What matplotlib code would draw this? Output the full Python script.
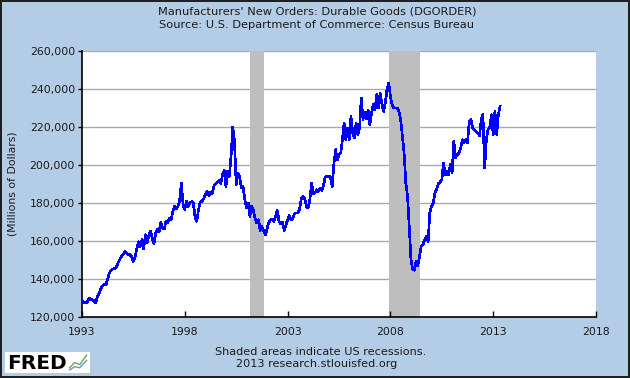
import numpy as np
import matplotlib
matplotlib.use('Agg')
import matplotlib.pyplot as plt
from matplotlib.ticker import FuncFormatter

# monthly new orders, thousands of millions of dollars, Jan 1993 onwards
orders_1993_1997 = [
    128.8, 127.4, 128.0, 127.7, 129.8, 129.5, 129.1, 128.4, 127.4, 130.9, 132.2, 134.8,
    136.5, 137.3, 137.0, 140.0, 143.2, 144.6, 145.3, 145.6, 146.0, 148.4, 150.2, 151.9,
    152.8, 154.4, 153.7, 152.6, 152.8, 151.6, 149.3, 151.9, 155.8, 159.6, 157.2, 160.7,
    155.8, 163.3, 159.3, 162.8, 165.1, 161.6, 158.6, 164.2, 166.3, 165.1, 169.8, 166.8,
    166.3, 170.4, 169.5, 172.1, 171.2, 175.6, 178.2, 176.8, 178.2, 181.4, 190.5, 179.1,
]
orders_1998_2002 = [
    176.5, 180.9, 178.2, 180.3, 180.7, 180.0, 172.1, 170.4, 176.5, 180.5, 180.9, 182.1,
    184.4, 186.1, 183.9, 185.6, 184.9, 189.1, 190.2, 190.9, 191.9, 190.2, 194.9, 197.2,
    188.8, 196.7, 194.0, 204.6, 220.0, 212.5, 189.6, 195.8, 194.0, 187.9, 188.8, 181.8,
    177.4, 180.0, 173.0, 178.2, 176.1, 172.1, 169.5, 171.2, 165.6, 167.7, 165.1, 163.3,
    166.3, 169.8, 170.9, 171.6, 170.4, 173.0, 176.1, 170.4, 169.1, 169.8, 165.6, 168.4,
]
orders_2003_2007 = [
    171.2, 173.3, 171.2, 171.6, 174.4, 174.7, 174.7, 176.8, 182.1, 183.5, 182.1, 178.2,
    177.4, 181.8, 190.5, 184.9, 185.3, 187.0, 186.1, 187.9, 186.7, 189.6, 193.7, 194.0,
    194.0, 193.7, 188.8, 200.2, 208.1, 202.8, 205.4, 206.3, 213.3, 222.1, 213.3, 219.5,
    213.3, 225.6, 216.8, 214.2, 222.1, 216.0, 219.5, 235.3, 223.9, 227.7, 224.2, 228.8,
    221.2, 227.4, 231.8, 229.1, 237.0, 230.0, 237.9, 232.6, 228.2, 232.6, 239.6, 243.2,
]
orders_2008_2013 = [
    236.1, 231.8, 230.0, 230.0, 230.0, 228.2, 223.9, 215.1, 206.3, 190.5, 183.5, 167.7,
    150.2, 145.3, 144.6, 149.3, 147.0, 151.9, 157.2, 158.1, 160.7, 162.3, 159.8, 174.7,
    178.2, 180.0, 185.3, 187.4, 190.2, 190.9, 192.3, 201.1, 194.9, 196.7, 194.9, 200.2,
    195.8, 212.5, 203.7, 205.4, 206.3, 208.9, 213.3, 211.6, 213.3, 211.6, 223.0, 223.9,
    219.5, 218.6, 217.7, 216.8, 215.5, 223.9, 226.5, 198.4, 213.3, 218.6, 220.0, 226.5,
    216.0, 228.2, 216.0, 226.5, 230.9,
]
start_year = 1993

# recessions (start, end) as decimal years
recessions = [(2001 + 2/12, 2001 + 10/12), (2007 + 11/12, 2009 + 5/12)]

x_ticks = [1993, 1998, 2003, 2008, 2013, 2018]
y_ticks = [120000, 140000, 160000, 180000, 200000, 220000, 240000, 260000]

orders = np.array(orders_1993_1997 + orders_1998_2002 + orders_2003_2007 + orders_2008_2013) * 1000
t = start_year + np.arange(len(orders)) / 12.0

bg = '#b4cde6'
txt = '#1a1a1a'
plt.rcParams['font.family'] = ['DejaVu Sans']

fig = plt.figure(figsize=(6.3, 3.78), dpi=100, facecolor=bg,
                 edgecolor='#202020', linewidth=1.5)
ax = fig.add_axes([82/630, 1 - 317/378, 514/630, 266/378])
ax.set_facecolor('white')

for a, b in recessions:
    ax.axvspan(a, b, color='#bebebe', lw=0, zorder=1)

for v in y_ticks[1:]:
    ax.axhline(v, color='#aaaaaa', lw=1.0, zorder=0.5)

ax.plot(t, orders, color='#0000ff', lw=1.2, antialiased=False, zorder=3)

ax.set_xlim(1993, 2018)
ax.set_ylim(120000, 260000)
ax.set_xticks(x_ticks)
ax.set_yticks(y_ticks)
ax.yaxis.set_major_formatter(FuncFormatter(lambda v, p: '{:,.0f}'.format(v)))
ax.tick_params(axis='x', direction='in', length=4, width=1, colors='black',
               labelcolor=txt, labelsize=7.8, pad=7)
ax.tick_params(axis='y', direction='out', length=3, width=1, colors='black',
               labelcolor=txt, labelsize=7.8, pad=2)

for s in ['top', 'right']:
    ax.spines[s].set_visible(False)
ax.spines['left'].set_linewidth(1.2)
ax.spines['bottom'].set_linewidth(1.2)

ax.set_ylabel('(Millions of Dollars)', fontsize=7.8, color=txt)
ax.yaxis.set_label_coords(-0.125, 0.5)

fig.text(0.503, 1 - 12/378, "Manufacturers' New Orders: Durable Goods (DGORDER)",
         ha='center', va='center', fontsize=8.2, color=txt)
fig.text(0.503, 1 - 25/378, 'Source: U.S. Department of Commerce: Census Bureau',
         ha='center', va='center', fontsize=8.2, color=txt)
fig.text(321/630, 1 - 352/378, 'Shaded areas indicate US recessions.',
         ha='center', va='center', fontsize=8.1, color=txt)
fig.text(317/630, 1 - 364/378, '2013 research.stlouisfed.org',
         ha='center', va='center', fontsize=8.1, color=txt)

# FRED logo box
logo = fig.add_axes([5/630, 1 - 373/378, 85/630, 21/378])
logo.set_facecolor('white')
logo.set_xticks([])
logo.set_yticks([])
for s in logo.spines.values():
    s.set_visible(False)
logo.set_xlim(0, 1)
logo.set_ylim(0, 1)
logo.text(0.03, 0.47, 'FRED', fontsize=14.5, fontweight='bold', color='black',
          ha='left', va='center')
logo.plot([0.76, 0.82, 0.88, 0.96], [0.25, 0.5, 0.4, 0.85], color='#6aa84f', lw=1)
logo.plot([0.76, 0.82, 0.88, 0.96], [0.15, 0.3, 0.25, 0.6], color='#6f8fcf', lw=1)

fig.savefig('out.png', dpi=100, facecolor=bg, edgecolor='#202020')
